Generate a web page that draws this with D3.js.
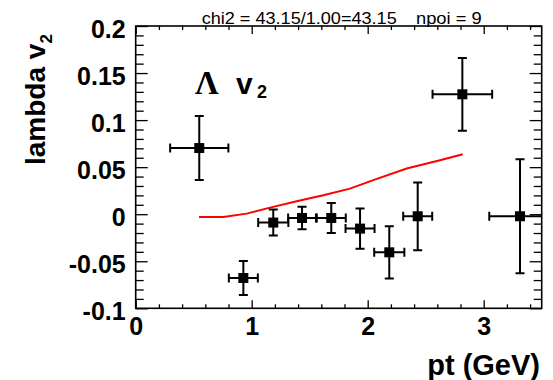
<!DOCTYPE html>
<html>
<head>
<meta charset="utf-8">
<script src="https://cdn.jsdelivr.net/npm/d3@7"></script>
<style>
  html, body { margin: 0; padding: 0; background: #fff; }
  svg { display: block; }
  text { font-family: "Liberation Sans", Arial, Helvetica, sans-serif; }
</style>
</head>
<body>
<svg id="chart" width="553" height="380"></svg>
<script>
// ---- data ----
const ptValues  = [0.548, 0.928, 1.186, 1.434, 1.686, 1.934, 2.186, 2.431, 2.816, 3.313];
const v2Values  = [0.0703, -0.0678, -0.0089, -0.004, -0.004, -0.0153, -0.0405, -0.0022, 0.1274, -0.0022];
const ptErrors  = [0.251, 0.125, 0.13, 0.12, 0.125, 0.125, 0.13, 0.125, 0.257, 0.265];
const v2Errors  = [0.034, 0.018, 0.0138, 0.012, 0.016, 0.0214, 0.0278, 0.036, 0.0386, 0.0606];
const curvePt   = [0.546, 0.755, 0.957, 1.158, 1.388, 1.617, 1.847, 2.048, 2.336, 2.623, 2.819];
const curveV2   = [-0.003, -0.003, 0.0006, 0.007, 0.0137, 0.0201, 0.0272, 0.0362, 0.0485, 0.0574, 0.0637];
const xTickValues = [0, 1, 2, 3];
const xTickLabels = ["0", "1", "2", "3"];
const yTickValues = [-0.1, -0.05, 0, 0.05, 0.1, 0.15, 0.2];
const yTickLabels = ["-0.1", "-0.05", "0", "0.05", "0.1", "0.15", "0.2"];
const xMinorTicks = d3.range(0, 3.5001, 0.2).map(v => +v.toFixed(2)).filter(v => !xTickValues.includes(v));
const yMinorTicks = d3.range(-0.1, 0.2001, 0.01).map(v => +v.toFixed(3)).filter(v => !yTickValues.some(t => Math.abs(t - v) < 1e-6));
const statsText = "chi2 = 43.15/1.00=43.15";
const npoiText = "npoi = 9";

// ---- layout ----
const frame = { left: 135.7, right: 541.7, top: 26, bottom: 308.3 };
const svg = d3.select("#chart");
svg.append("rect").attr("width", 553).attr("height", 380).attr("fill", "#fff");

const x = d3.scaleLinear().domain([0, 3.5]).range([frame.left, frame.right]);
const y = d3.scaleLinear().domain([-0.1, 0.2]).range([frame.bottom, frame.top]);

// clip
svg.append("defs").append("clipPath").attr("id", "clip")
  .append("rect").attr("x", frame.left).attr("y", frame.top)
  .attr("width", frame.right - frame.left).attr("height", frame.bottom - frame.top);

function styleAxis(g) {
  g.select(".domain").remove();
  g.selectAll("line").attr("stroke", "#000").attr("stroke-width", 1.3);
}

// bottom axis
const gB = svg.append("g").attr("transform", `translate(0,${frame.bottom})`)
  .call(d3.axisBottom(x).tickValues(xTickValues).tickSize(-8).tickFormat((d, i) => xTickLabels[i]));
styleAxis(gB);
gB.selectAll("text").attr("y", 0).attr("dy", 27).attr("fill", "#000")
  .style("font-size", "25px").style("font-weight", "bold");
const gBm = svg.append("g").attr("transform", `translate(0,${frame.bottom})`)
  .call(d3.axisBottom(x).tickValues(xMinorTicks).tickSize(-4).tickFormat(""));
styleAxis(gBm);

// top axis
const gT = svg.append("g").attr("transform", `translate(0,${frame.top})`)
  .call(d3.axisTop(x).tickValues(xTickValues).tickSize(-8).tickFormat(""));
styleAxis(gT);
const gTm = svg.append("g").attr("transform", `translate(0,${frame.top})`)
  .call(d3.axisTop(x).tickValues(xMinorTicks).tickSize(-4).tickFormat(""));
styleAxis(gTm);

// left axis
const gL = svg.append("g").attr("transform", `translate(${frame.left},0)`)
  .call(d3.axisLeft(y).tickValues(yTickValues).tickSize(-12).tickFormat((d, i) => yTickLabels[i]));
styleAxis(gL);
gL.selectAll("text").attr("x", -10).attr("dy", "0.46em").attr("fill", "#000")
  .style("font-size", "25px").style("font-weight", "bold");
const gLm = svg.append("g").attr("transform", `translate(${frame.left},0)`)
  .call(d3.axisLeft(y).tickValues(yMinorTicks).tickSize(-8).tickFormat(""));
styleAxis(gLm);

// right axis
const gR = svg.append("g").attr("transform", `translate(${frame.right},0)`)
  .call(d3.axisRight(y).tickValues(yTickValues).tickSize(-12).tickFormat(""));
styleAxis(gR);
const gRm = svg.append("g").attr("transform", `translate(${frame.right},0)`)
  .call(d3.axisRight(y).tickValues(yMinorTicks).tickSize(-8).tickFormat(""));
styleAxis(gRm);

// frame
svg.append("rect").attr("x", frame.left).attr("y", frame.top)
  .attr("width", frame.right - frame.left).attr("height", frame.bottom - frame.top)
  .attr("fill", "none").attr("stroke", "#000").attr("stroke-width", 1.6);

// curve
const curveData = curvePt.map((p, i) => [p, curveV2[i]]);
svg.append("path").datum(curveData)
  .attr("clip-path", "url(#clip)")
  .attr("fill", "none").attr("stroke", "#ff0000").attr("stroke-width", 2)
  .attr("d", d3.line().x(d => x(d[0])).y(d => y(d[1])));

// error bars + markers
const pts = ptValues.map((p, i) => ({ p, v: v2Values[i], ep: ptErrors[i], ev: v2Errors[i] }));
const gP = svg.append("g").attr("clip-path", "url(#clip)");
const cap = 4.5;
pts.forEach(d => {
  const cx = x(d.p), cy = y(d.v);
  const x0 = x(d.p - d.ep), x1 = x(d.p + d.ep);
  const y0 = y(d.v + d.ev), y1 = y(d.v - d.ev);
  const g = gP.append("g").attr("stroke", "#000").attr("stroke-width", 2);
  g.append("line").attr("x1", x0).attr("x2", x1).attr("y1", cy).attr("y2", cy);
  g.append("line").attr("x1", cx).attr("x2", cx).attr("y1", y0).attr("y2", y1);
  g.append("line").attr("x1", x0).attr("x2", x0).attr("y1", cy - cap).attr("y2", cy + cap);
  g.append("line").attr("x1", x1).attr("x2", x1).attr("y1", cy - cap).attr("y2", cy + cap);
  g.append("line").attr("x1", cx - cap).attr("x2", cx + cap).attr("y1", y0).attr("y2", y0);
  g.append("line").attr("x1", cx - cap).attr("x2", cx + cap).attr("y1", y1).attr("y2", y1);
  gP.append("rect").attr("x", cx - 5).attr("y", cy - 5).attr("width", 10).attr("height", 10).attr("fill", "#000");
});

// stats text
svg.append("text").attr("x", 201.7).attr("y", 24).attr("textLength", 195).attr("lengthAdjust", "spacingAndGlyphs")
  .style("font-size", "16px").attr("fill", "#000").text(statsText);
svg.append("text").attr("x", 416).attr("y", 24).attr("textLength", 65.7).attr("lengthAdjust", "spacingAndGlyphs")
  .style("font-size", "16px").attr("fill", "#000").text(npoiText);

// axis titles
const yt = svg.append("text").attr("transform", "translate(45,165) rotate(-90)")
  .style("font-size", "28px").style("font-weight", "bold").attr("fill", "#000");
yt.append("tspan").text("lambda v");
yt.append("tspan").attr("dy", 7).style("font-size", "17px").text("2");

svg.append("text").attr("x", 540).attr("y", 375).attr("text-anchor", "end")
  .style("font-size", "29px").style("font-weight", "bold").attr("fill", "#000").text("pt (GeV)");

// Lambda v2 label
const lab = svg.append("text").attr("x", 195).attr("y", 93.5).attr("fill", "#000").style("font-weight", "bold");
lab.append("tspan").style("font-family", "'Liberation Serif', 'Times New Roman', serif").style("font-size", "33px").text("Λ");
lab.append("tspan").attr("x", 236).style("font-size", "30px").text("v");
lab.append("tspan").attr("x", 257).attr("dy", 4).style("font-size", "18px").text("2");
</script>
</body>
</html>
